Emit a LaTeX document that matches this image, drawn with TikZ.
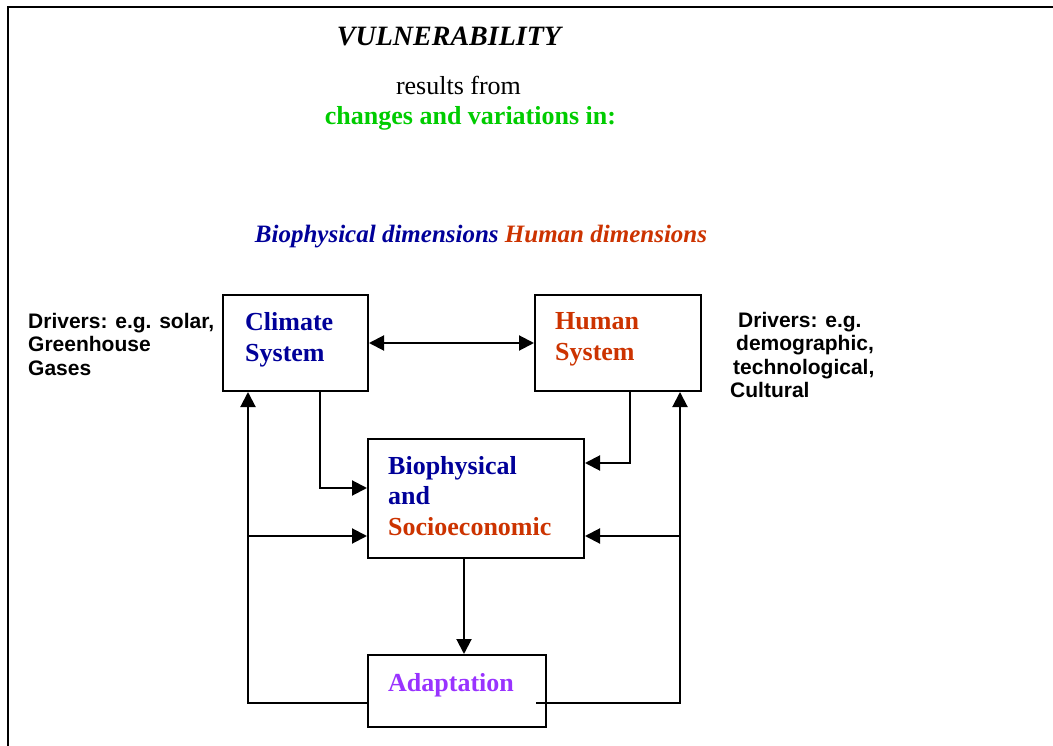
\documentclass[tikz,border=0pt]{standalone}
\usepackage{fontspec}
\setmainfont{Liberation Serif}
\setsansfont{Liberation Sans}
\usetikzlibrary{arrows.meta}
\definecolor{bioblue}{RGB}{0,0,153}
\definecolor{humred}{RGB}{204,51,0}
\definecolor{chgreen}{RGB}{0,204,0}
\definecolor{adpurple}{RGB}{153,51,255}
\begin{document}
\begin{tikzpicture}[x=1pt,y=-1pt,
  box/.style={draw,line width=2pt,inner sep=0pt},
  boxtext/.style={anchor=north west,inner sep=0pt,align=left,font=\fontsize{26}{31}\selectfont\bfseries},
  drivers/.style={anchor=north west,inner sep=0pt,align=left,font=\fontsize{21}{23.5}\selectfont\sffamily\bfseries},
  conn/.style={line width=2pt,-{Triangle[length=15pt,width=15pt]}}]
\useasboundingbox (0,0) rectangle (1053,746);
% Frame
\draw[line width=2.2pt] (8,746) -- (8,7) -- (1053,7);

% Titles
\node[anchor=base,inner sep=0pt,font=\fontsize{28}{32}\selectfont\bfseries\itshape] (title) at (449,46) {VULNERABILITY};
\node[anchor=base,inner sep=0pt,font=\fontsize{26}{30}\selectfont] (results) at (458.5,95) {results from};
\node[anchor=base,inner sep=0pt,text=chgreen,font=\fontsize{26}{30}\selectfont\bfseries] (changes) at (470.5,125) {changes and variations in:};
\node[anchor=base,inner sep=0pt,font=\fontsize{25}{30}\selectfont\bfseries\itshape] (dims) at (481,243)
  {\textcolor{bioblue}{Biophysical dimensions} \textcolor{humred}{Human dimensions}};

% Boxes
\node[box,minimum width=145pt,minimum height=96pt] (climate) at (295.5,343) {};
\node[box,minimum width=166pt,minimum height=96pt] (human) at (618,343) {};
\node[box,minimum width=216pt,minimum height=119pt] (bio) at (476,498.5) {};
\node[box,minimum width=178pt,minimum height=72pt] (adapt) at (457,691) {};

% Box texts
\node[boxtext,text=bioblue] (climatetxt) at (245,312) {Climate\\System};
\node[boxtext,text=humred] (humantxt) at (555,312) {Human\\System};
\node[boxtext,font=\fontsize{26}{30.5}\selectfont\bfseries] (biotxt) at (388,456)
  {\textcolor{bioblue}{Biophysical}\\\textcolor{bioblue}{and}\\\textcolor{humred}{Socioeconomic}};
\node[boxtext,text=adpurple] (adapttxt) at (388,673) {Adaptation};

% Drivers
\node[drivers] (drvleft) at (28,313) {Drivers: e.g. solar,\\Greenhouse\\Gases};
\node[drivers] (drvright) at (730,312)
  {\hspace*{8pt}Drivers: e.g.\\\hspace*{6pt}demographic,\\\hspace*{3pt}technological,\\Cultural};

% Connectors
\coordinate (lbus) at ([xshift=-47.5pt]climate.south);
\coordinate (rbus) at ([xshift=62pt]human.south);
\coordinate (bioL) at ([yshift=-37.5pt]bio.west);
\coordinate (bioR) at ([yshift=-37.5pt]bio.east);
\coordinate (adaptR) at (536,703);

\draw[conn,{Triangle[length=15pt,width=15pt]}-{Triangle[length=15pt,width=15pt]}] (climate) -- (human);
\draw[conn] ([xshift=24.5pt]climate.south) |- ([yshift=10.5pt]bio.west);
\draw[conn] ([xshift=12pt]human.south) |- ([yshift=35.5pt]bio.east);
\draw[conn] ([yshift=-12pt]adapt.west) -| (lbus);
\draw[conn] (lbus |- bioL) -- (bioL);
\draw[conn] (adaptR) -| (rbus);
\draw[conn] (rbus |- bioR) -- (bioR);
\draw[conn] ([xshift=-12pt]bio.south) -- ([xshift=-12pt]bio.south |- adapt.north);

\end{tikzpicture}
\end{document}
